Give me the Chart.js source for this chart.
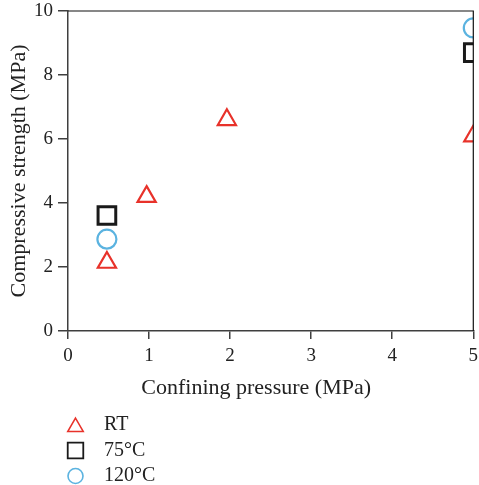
<!DOCTYPE html>
<html>
<head>
<meta charset="utf-8">
<script src="https://cdn.jsdelivr.net/npm/chart.js@4/dist/chart.umd.min.js"></script>
<style>
  html, body { margin: 0; padding: 0; background: #fff; }
  #wrap { position: relative; width: 479px; height: 485px; }
</style>
</head>
<body>
<div id="wrap"><canvas id="grafico" width="479" height="485"></canvas></div>
<script>
// dados
const rotulos = ['RT', '75°C', '120°C'];
const pressaoRT = [0.48, 0.97, 1.96, 5.0];
const resistRT = [2.14, 4.2, 6.6, 6.09];
const pressao75 = [0.48, 5.0];
const resist75 = [3.61, 8.7];
const pressao120 = [0.48, 5.0];
const resist120 = [2.87, 9.47];
const ticksX = [0, 1, 2, 3, 4, 5];
const ticksY = [0, 2, 4, 6, 8, 10];
const tituloX = 'Confining pressure (MPa)';
const tituloY = 'Compressive strength (MPa)';

const fonte = 'Liberation Serif, Times New Roman, serif';
const corEixo = '#3f3f3f';

function pares(xs, ys) {
    return xs.map((x, i) => ({ x: x, y: ys[i] }));
}

// estilos dos marcadores (grafico e legenda)
const estilos = [
    { pointStyle: 'triangle', borderColor: '#e8322a', raio: 10.5, borda: 2.2, raioLeg: 9, bordaLeg: 1.5 },
    { pointStyle: 'rect', borderColor: '#1a1a1a', raio: 12.5, borda: 3, raioLeg: 11, bordaLeg: 1.8 },
    { pointStyle: 'circle', borderColor: '#5bb3e0', raio: 9.5, borda: 2.2, raioLeg: 7.5, bordaLeg: 1.6 }
];
const series = [pares(pressaoRT, resistRT), pares(pressao75, resist75), pares(pressao120, resist120)];

// moldura superior e direita
const moldura = {
    id: 'moldura',
    afterDatasetsDraw(chart) {
        const { ctx, chartArea: a } = chart;
        ctx.save();
        ctx.strokeStyle = '#111';
        ctx.lineWidth = 1.2;
        ctx.beginPath();
        ctx.moveTo(a.left, a.top);
        ctx.lineTo(a.right, a.top);
        ctx.lineTo(a.right, a.bottom);
        ctx.stroke();
        ctx.restore();
    }
};

// titulo do eixo x (um pouco deslocado p/ esquerda como no original) e legenda vertical
const legenda = {
    id: 'legendaVertical',
    afterDraw(chart) {
        const { ctx, chartArea: a } = chart;
        ctx.save();
        ctx.fillStyle = '#222';
        ctx.font = '22px ' + fonte;
        ctx.textAlign = 'center';
        ctx.textBaseline = 'middle';
        ctx.fillText(tituloX, (a.left + a.right) / 2 - 14.5, a.bottom + 57);

        rotulos.forEach(function(txt, i) {
            const e = estilos[i];
            const y = a.bottom + 94 + i * 25.5;
            ctx.strokeStyle = e.borderColor;
            ctx.fillStyle = 'rgba(0,0,0,0)';
            ctx.lineWidth = e.bordaLeg;
            Chart.helpers.drawPoint(ctx, {
                pointStyle: e.pointStyle,
                radius: e.raioLeg,
                rotation: 0,
                borderWidth: e.bordaLeg
            }, a.left + 7.5, y + (e.pointStyle === 'triangle' ? 2 : 0));
            ctx.fillStyle = '#222';
            ctx.font = '20px ' + fonte;
            ctx.textAlign = 'left';
            ctx.fillText(txt, a.left + 36, y);
        });
        ctx.restore();
    }
};

const ctx = document.getElementById('grafico').getContext('2d');
new Chart(ctx, {
    type: 'scatter',
    data: {
        datasets: series.map(function(pts, i) {
            const e = estilos[i];
            return {
                label: rotulos[i],
                data: pts,
                pointStyle: e.pointStyle,
                pointRadius: e.raio,
                pointHoverRadius: e.raio,
                pointBorderWidth: e.borda,
                borderColor: e.borderColor,
                backgroundColor: 'rgba(0,0,0,0)',
                pointBackgroundColor: 'rgba(0,0,0,0)'
            };
        })
    },
    options: {
        responsive: false,
        animation: false,
        layout: {
            autoPadding: false,
            padding: { top: 11, right: 5.7, left: 0, bottom: 79 }
        },
        plugins: {
            legend: { display: false },
            tooltip: { enabled: false }
        },
        scales: {
            x: {
                type: 'linear',
                min: ticksX[0],
                max: ticksX[ticksX.length - 1],
                afterFit(s) { s.height = 75; s.paddingLeft = 0; s.paddingRight = 0; },
                afterBuildTicks(s) { s.ticks = ticksX.map(v => ({ value: v })); },
                border: { color: corEixo, width: 1.5 },
                grid: { display: true, drawOnChartArea: false, drawTicks: true, tickLength: 8, color: corEixo, lineWidth: 1.5 },
                ticks: { color: '#222', font: { family: fonte, size: 19 }, padding: 6 },
                title: { display: false }
            },
            y: {
                type: 'linear',
                min: ticksY[0],
                max: ticksY[ticksY.length - 1],
                afterFit(s) { s.width = 68; s.paddingTop = 0; s.paddingBottom = 0; },
                afterBuildTicks(s) { s.ticks = ticksY.map(v => ({ value: v })); },
                border: { color: corEixo, width: 1.5 },
                grid: { display: true, drawOnChartArea: false, drawTicks: true, tickLength: 10, color: corEixo, lineWidth: 1.5 },
                ticks: { color: '#222', font: { family: fonte, size: 19 }, padding: 5 },
                title: { display: true, text: tituloY, color: '#222', font: { family: fonte, size: 22 }, padding: { top: 6, bottom: 0 } }
            }
        }
    },
    plugins: [moldura, legenda]
});
</script>
</body>
</html>
